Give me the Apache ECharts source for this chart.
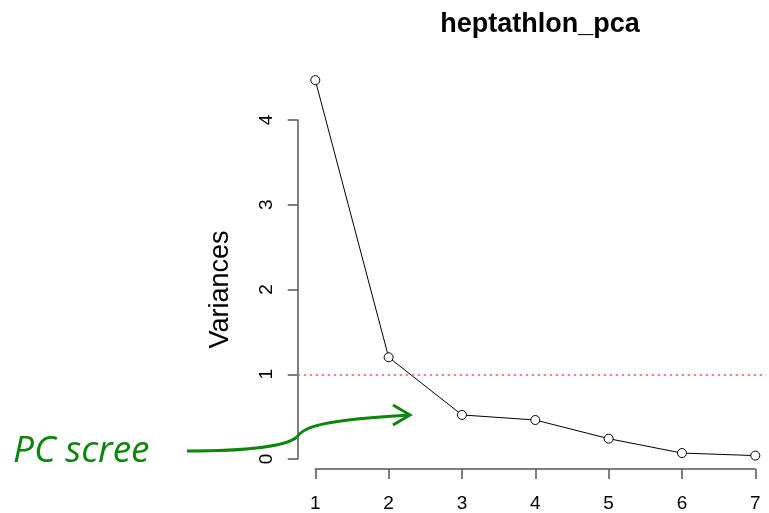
<!DOCTYPE html>
<html>
<head>
<meta charset="utf-8">
<script src="https://cdn.jsdelivr.net/npm/echarts@6/dist/echarts.min.js"></script>
<style>
  html, body { margin: 0; padding: 0; background: #fff; }
  #chart { width: 769px; height: 513px; }
</style>
</head>
<body>
<div id="chart"></div>
<script>
// component numbers and their variances (sdev^2)
var components = [1, 2, 3, 4, 5, 6, 7];
var variances = [4.47, 1.20, 0.52, 0.46, 0.24, 0.07, 0.04];
var yTicks = [0, 1, 2, 3, 4];
var refLevel = 1;

var chart = echarts.init(document.getElementById('chart'));

var axisColor = '#555';
var font = 'Liberation Sans, Arial, sans-serif';
var green = '#0a870a';

// R-style plot region is a bit wider than the 1..7 x axis
var xLo = 0.76, xHi = 7.146;

chart.setOption({
  animation: false,
  title: {
    text: 'heptathlon_pca',
    left: 535,
    top: 6,
    textAlign: 'center',
    textStyle: { fontFamily: font, fontSize: 27, fontWeight: 'bold', color: '#000' }
  },
  grid: [
    { left: 297.7, top: 120, width: 468.3, height: 339 },  // plot region + y axis
    { left: 315.3, top: 120, width: 440, height: 350 }      // detached x axis
  ],
  xAxis: [
    { gridIndex: 0, type: 'value', min: xLo, max: xHi, show: false },
    {
      gridIndex: 1,
      type: 'value',
      min: 1,
      max: 7,
      interval: 1,
      axisLine: { show: true, lineStyle: { color: axisColor, width: 1.5 } },
      axisTick: { show: true, length: 10, lineStyle: { color: axisColor, width: 1.5 } },
      axisLabel: { margin: 25, fontFamily: font, fontSize: 19, color: '#000' },
      splitLine: { show: false }
    }
  ],
  yAxis: [
    {
      gridIndex: 0,
      type: 'value',
      min: yTicks[0],
      max: yTicks[yTicks.length - 1],
      interval: 1,
      name: 'Variances',
      nameLocation: 'middle',
      nameGap: 64,
      nameTextStyle: { fontFamily: font, fontSize: 27, color: '#000' },
      axisLine: { show: true, lineStyle: { color: axisColor, width: 1.5 } },
      axisTick: { show: true, length: 10, lineStyle: { color: axisColor, width: 1.5 } },
      axisLabel: { rotate: 90, margin: 21, fontFamily: font, fontSize: 19, color: '#000' },
      splitLine: { show: false }
    },
    { gridIndex: 1, type: 'value', min: 0, max: 1, show: false }
  ],
  series: [{
    type: 'line',
    xAxisIndex: 0,
    yAxisIndex: 0,
    clip: false,
    data: components.map(function (c, i) { return [c, variances[i]]; }),
    symbol: 'circle',
    symbolSize: 9,
    itemStyle: { color: '#fff', borderColor: '#000', borderWidth: 1 },
    lineStyle: { color: '#000', width: 1 },
    markLine: {
      silent: true,
      symbol: 'none',
      label: { show: false },
      lineStyle: { color: '#ff5a5a', width: 1.6, type: [2.5, 3.5] },
      data: [[{ coord: [xLo, refLevel] }, { coord: [xHi, refLevel] }]]
    },
    z: 3
  }],
  graphic: [
    {
      type: 'bezierCurve',
      shape: { x1: 187, y1: 451, cpx1: 240, cpy1: 451, cpx2: 285, cpy2: 447, x2: 297, y2: 437 },
      style: { stroke: green, lineWidth: 3, fill: null },
      z: 10
    },
    {
      type: 'bezierCurve',
      shape: { x1: 297, y1: 437, cpx1: 303, cpy1: 427, cpx2: 322, cpy2: 420, x2: 409, y2: 415 },
      style: { stroke: green, lineWidth: 3, fill: null },
      z: 10
    },
    {
      type: 'polyline',
      shape: { points: [[393, 405], [410, 415], [393, 425]] },
      style: { stroke: green, lineWidth: 3, fill: null },
      z: 10
    },
    {
      type: 'text',
      left: 13,
      top: 433,
      style: {
        text: 'PC scree',
        fontFamily: 'Open Sans, sans-serif',
        fontStyle: 'italic',
        fontSize: 37,
        fill: green
      },
      z: 10
    }
  ]
});
</script>
</body>
</html>
